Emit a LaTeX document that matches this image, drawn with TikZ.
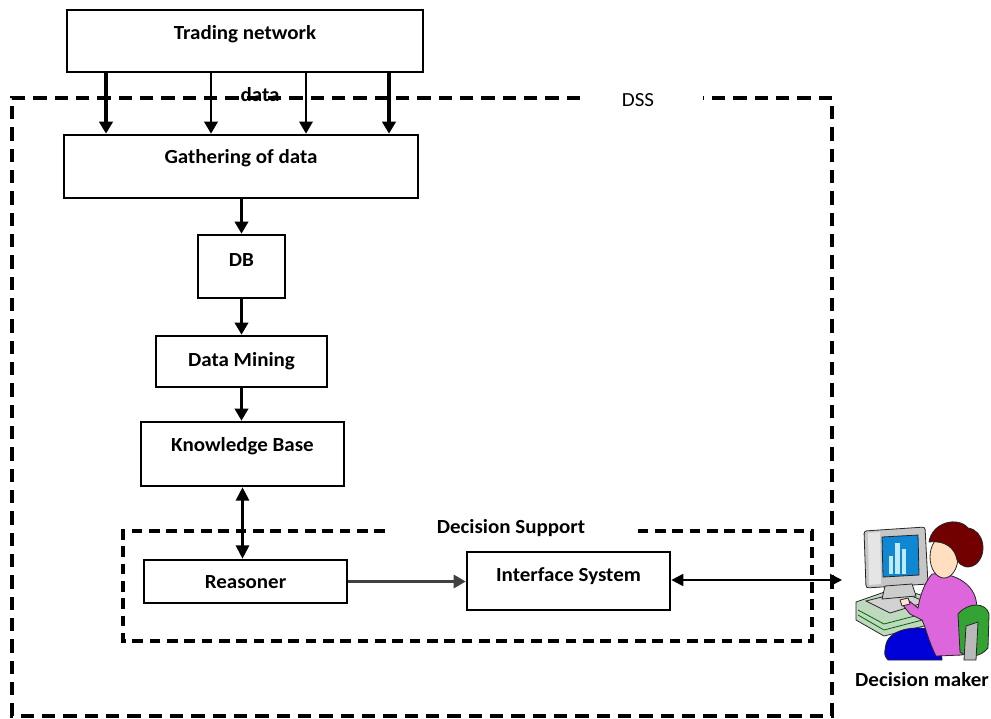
\documentclass[tikz,border=0pt]{standalone}
\usepackage{fontspec}
\setmainfont{Carlito}[FakeStretch=1.05]
\usetikzlibrary{arrows.meta}
\begin{document}
\begin{tikzpicture}[x=0.75pt,y=-0.75pt,
  box/.style={draw, line width=2pt, inner sep=0pt},
  lbl/.style={font=\fontsize{15}{17}\selectfont\bfseries},
  thinlbl/.style={font=\fontsize{15}{17}\selectfont},
  head/.style={-{Triangle[width=10pt,length=9pt]}},
  dhead/.style={{Triangle[width=10pt,length=10pt]}-{Triangle[width=10pt,length=10pt]}},
  frame/.style={line width=2.6pt, dash pattern=on 10pt off 6pt},
  subframe/.style={line width=2.3pt, dash pattern=on 8pt off 5pt},
  ink/.style={draw=black!85, line width=0.6pt}]
\useasboundingbox (0,0) rectangle (991,718);

% outer DSS frame, open at the top for its title
\draw[frame] (580,98) -- (12,98) -- (12,716) -- (832,716) -- (832,98) -- (703,98);
\node[thinlbl] (dss) at (638,100) {DSS};

% decision support frame
\draw[subframe] (385,531) -- (123,531) -- (123,641) -- (812,641) -- (812,531) -- (632,531);
\node[lbl] (dsup) at (511,528) {Decision Support};

% process boxes
\node[box, minimum width=267pt, minimum height=46.5pt,
  label={[lbl, yshift=5.25pt]center:Trading network}] (tn) at (245,41) {};
\node[box, minimum width=265.5pt, minimum height=47.25pt,
  label={[lbl, yshift=6.4pt]center:Gathering of data}] (gd) at (241,166.5) {};
\node[box, minimum width=65.25pt, minimum height=47.25pt,
  label={[lbl, yshift=4.9pt]center:DB}] (db) at (241.5,266.5) {};
\node[box, minimum width=128.25pt, minimum height=38.25pt,
  label={[lbl]center:Data Mining}] (dm) at (241.5,361.5) {};
\node[box, minimum width=152.25pt, minimum height=48pt,
  label={[lbl, yshift=6pt]center:Knowledge Base}] (kb) at (242.5,454) {};
\node[box, minimum width=152.25pt, minimum height=32.25pt,
  label={[lbl, yshift=-0.8pt]center:Reasoner}] (rs) at (245.5,581.5) {};
\node[box, minimum width=152.25pt, minimum height=43.5pt,
  label={[lbl, yshift=3.4pt]center:Interface System}] (is) at (568.5,581) {};

\node[lbl] (datalbl) at (260,95) {data};
\coordinate (user) at (842,580);

% data feeds
\draw[head, line width=2.3pt] (tn.south -| 106,0) -- (gd.north -| 106,0);
\draw[head, line width=2.1pt] (tn.south -| 211,0) -- (gd.north -| 211,0);
\draw[head, line width=1.5pt] (tn.south -| 306,0) -- (gd.north -| 306,0);
\draw[head, line width=2.6pt] (tn.south -| 389,0) -- (gd.north -| 389,0);

% processing chain
\draw[head, line width=2pt] (gd.south -| db.north) -- (db.north);
\draw[head, line width=2pt] (db.south) -- (db.south |- dm.north);
\draw[head, line width=2pt] (dm.south) -- (dm.south |- kb.north);
\draw[dhead, line width=1.6pt] (kb.south) -- (rs.north -| kb.south);
\draw[head, line width=1.6pt, draw=black!75] (rs.east) -- (is.west |- rs.east);
\draw[{Triangle[width=9pt,length=9pt]}-{Triangle[width=9pt,length=9pt]}, line width=1.5pt] (is.east |- user) -- (user);

% decision maker at the workstation
% desk
\fill[green!25!gray!40, ink] (856,602) -- (896,588) -- (932,598) -- (932,624) -- (884,636) -- (856,620) -- cycle;
\draw[ink, green!40!black] (858,610) -- (884,624) -- (930,612);
\draw[ink, green!40!black] (858,615) -- (884,630) -- (930,618);
% keyboard
\fill[gray!35, ink] (866,601) -- (902,592) -- (926,602) -- (890,613) -- cycle;
% monitor
\fill[gray!45, ink, rounded corners=2pt] (864,531) -- (925,527) -- (928,584) -- (866,588) -- cycle;
\fill[gray!20] (868,533) -- (880,532) -- (881,584) -- (869,585) -- cycle;
\fill[cyan!70!blue, ink] (882,537) -- (918,535) -- (919,575) -- (883,577) -- cycle;
\fill[cyan!25] (889,556) rectangle (893,574);
\fill[cyan!25] (895,543) rectangle (900,574);
\fill[cyan!25] (902,549) rectangle (906,574);
% stand
\fill[gray!40, ink] (885,586) -- (912,584) -- (916,596) -- (882,599) -- cycle;
% skirt
\fill[blue!85!black, ink] (886,644) .. controls (890,628) and (920,624) .. (940,632) -- (942,660) -- (888,660) .. controls (884,655) .. (886,644);
% body and arm
\fill[violet!45!magenta!60, ink] (932,574) .. controls (952,572) and (972,582) .. (976,600)
  .. controls (980,622) and (974,645) .. (962,655) -- (936,656)
  .. controls (928,640) and (926,628) .. (922,620)
  -- (910,614) -- (902,604) -- (908,600) -- (918,608)
  .. controls (920,595) and (925,582) .. (932,574) -- cycle;
% chair seat back, in front of the lower back
\fill[green!55!black!80, ink] (958,614) .. controls (968,602) and (986,602) .. (989,614)
  -- (988,648) .. controls (980,658) and (966,658) .. (960,652) -- cycle;
% chair back post
\fill[gray!55, ink] (966,626) -- (978,622) -- (976,660) -- (964,660) -- cycle;
% hand on keyboard
\fill[orange!20, ink] (900,600) -- (908,598) -- (910,604) -- (902,606) -- cycle;
% head
\fill[orange!25, ink] (944,557) ellipse [x radius=14, y radius=21];
% hair
\fill[red!45!black, ink] (929,542) .. controls (932,522) and (958,516) .. (968,528)
  .. controls (984,530) and (988,554) .. (976,564)
  .. controls (968,570) and (960,566) .. (957,560)
  .. controls (955,548) and (945,540) .. (929,542) -- cycle;
\node[lbl] (dmlabel) at (922,680) {Decision maker};
\end{tikzpicture}
\end{document}
